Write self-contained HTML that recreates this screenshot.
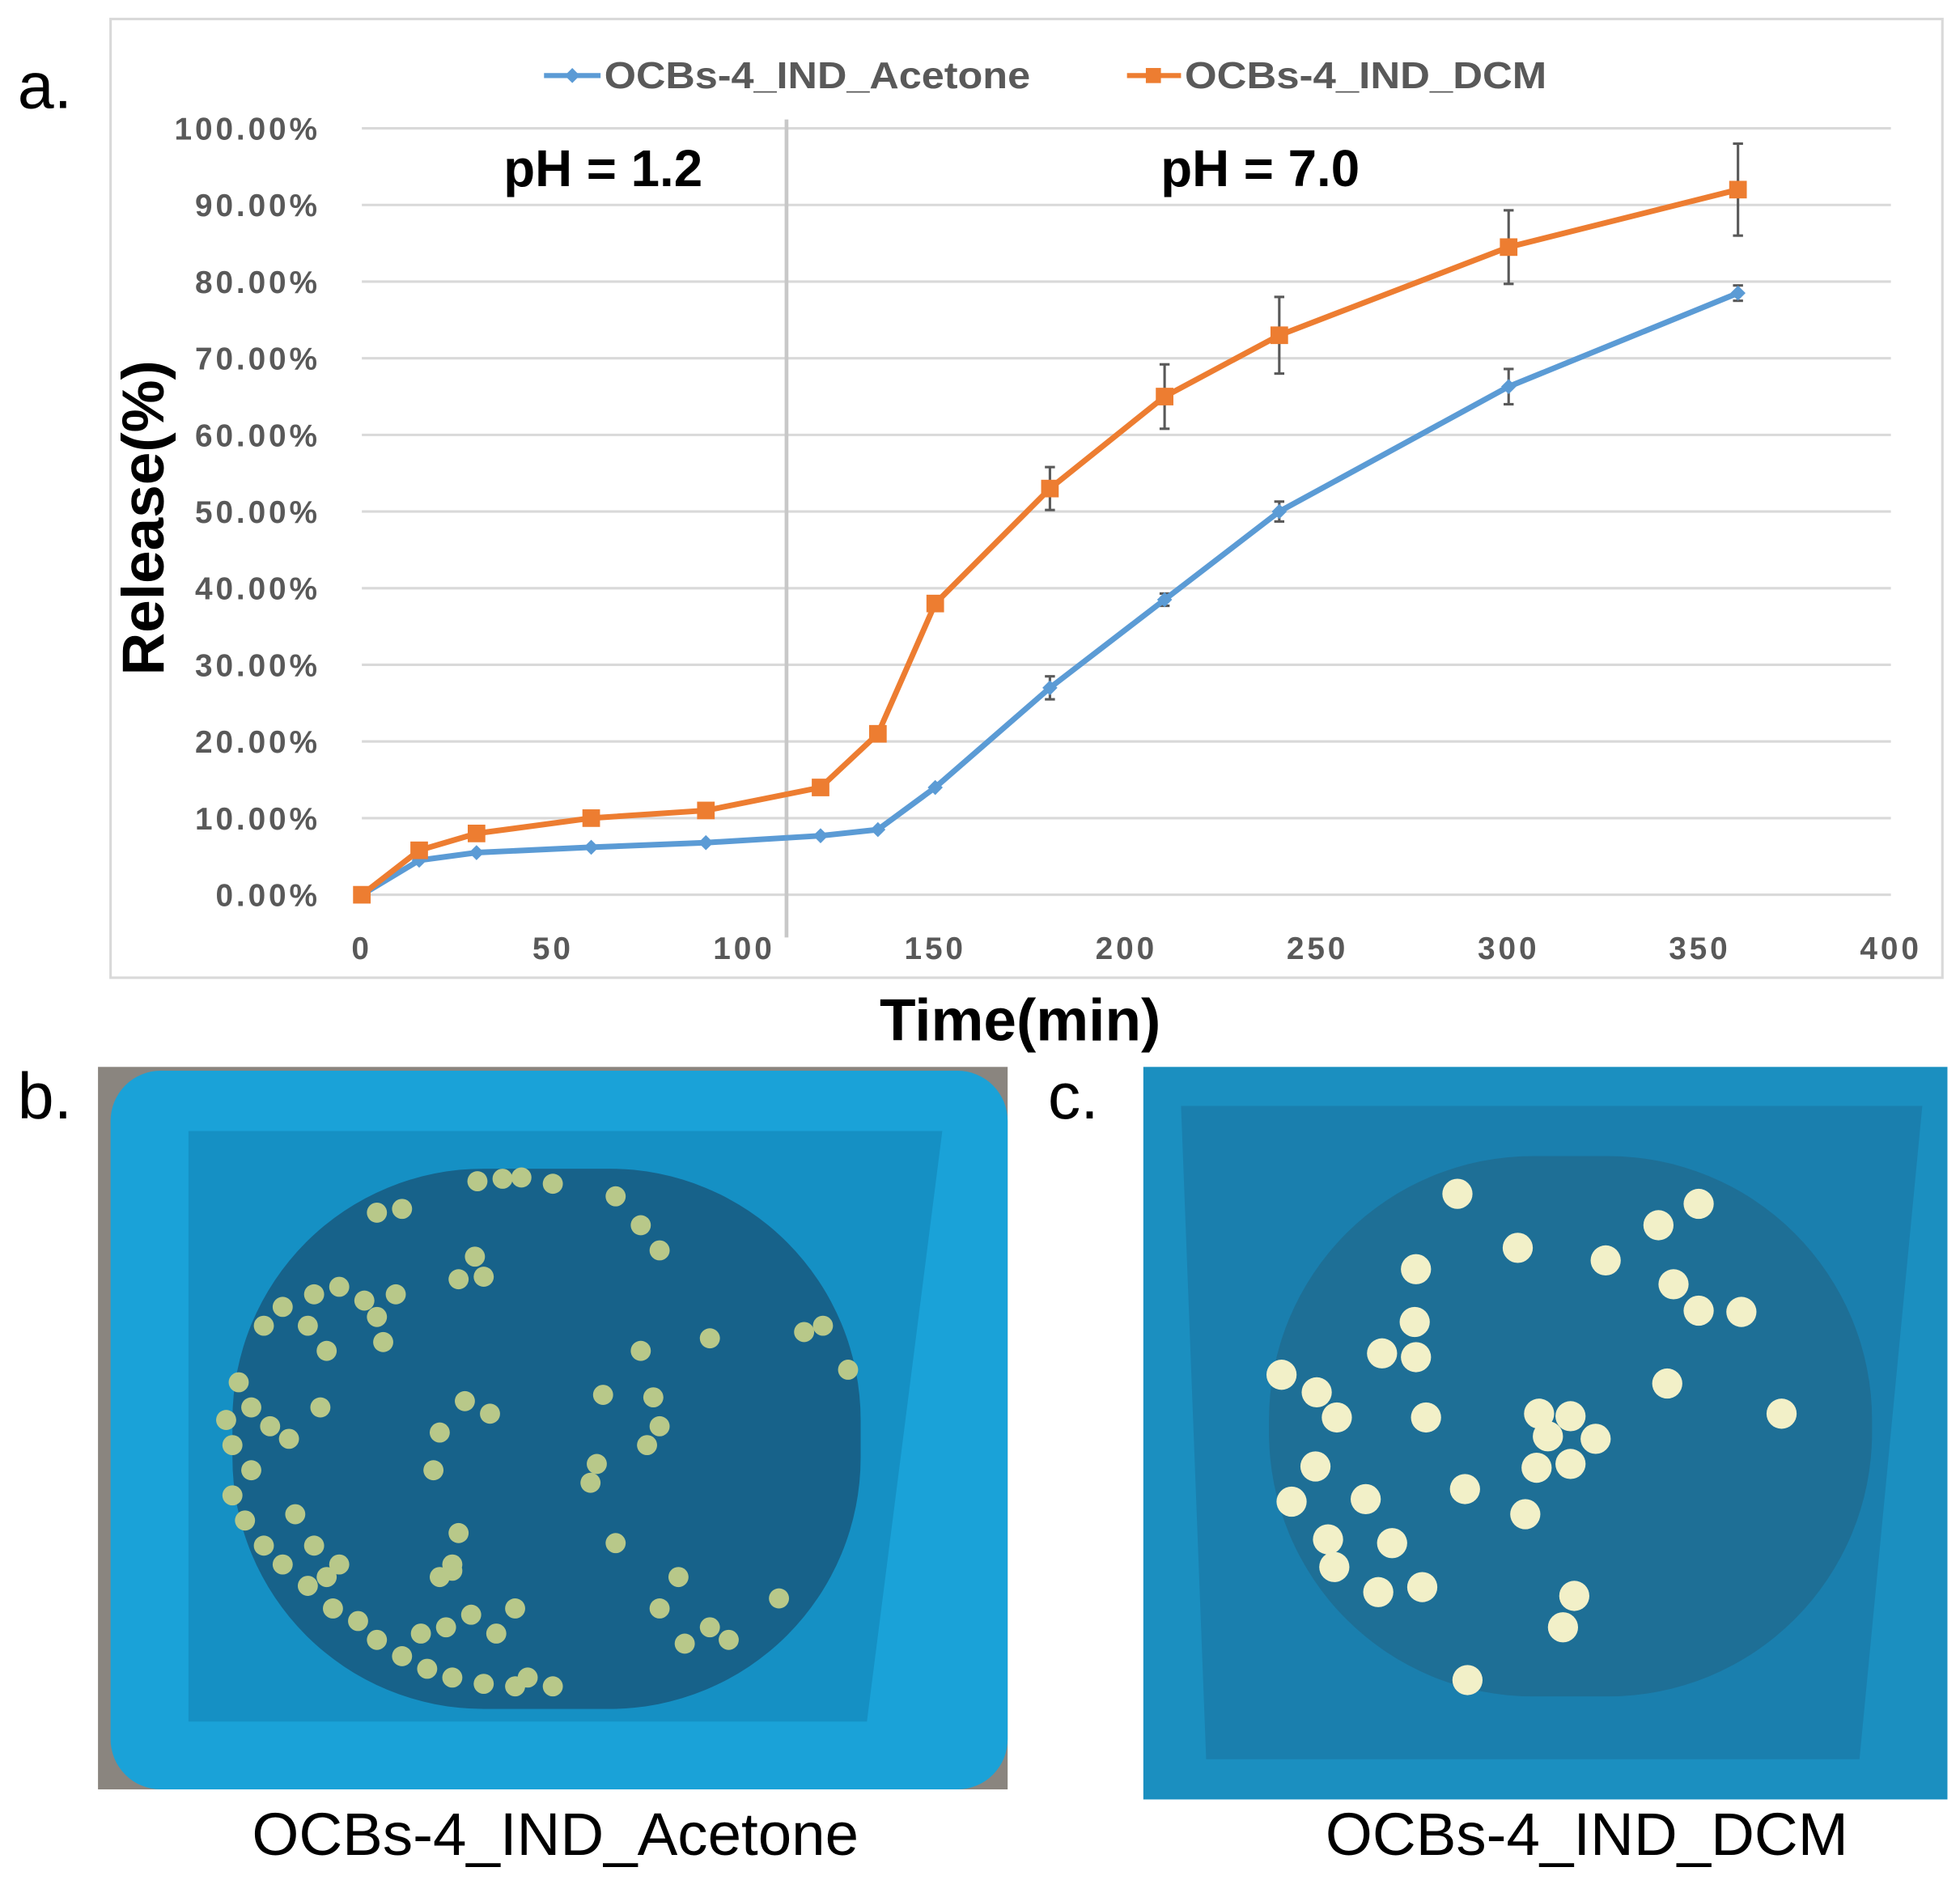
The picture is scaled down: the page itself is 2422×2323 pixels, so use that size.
<!DOCTYPE html>
<html><head><meta charset="utf-8"><style>
html,body{margin:0;padding:0;background:#fff;}
svg{display:block;}
</style></head><body>
<svg id="fig" width="2422" height="2323" viewBox="0 0 1560 1496" xmlns="http://www.w3.org/2000/svg" font-family="Liberation Sans, sans-serif">
<rect x="0" y="0" width="1560" height="1496" fill="#fff"/>
<text x="14" y="86" font-size="52">a.</text>
<rect x="88" y="15" width="1458" height="763" fill="#fff" stroke="#d9d9d9" stroke-width="2"/>
<g id="grid"></g>
<g id="yticks"></g>
<g id="xticks"></g>
<line x1="626" y1="95" x2="626" y2="746" stroke="#c8c8c8" stroke-width="3"/>
<text x="480" y="148" font-size="41" font-weight="bold" text-anchor="middle">pH = 1.2</text>
<text x="1003" y="148" font-size="41" font-weight="bold" text-anchor="middle">pH = 7.0</text>
<text transform="translate(130,412) rotate(-90)" font-size="47" font-weight="bold" text-anchor="middle">Release(%)</text>
<text x="812" y="828" font-size="47" font-weight="bold" text-anchor="middle">Time(min)</text>
<g>
<g>
<line x1="433" y1="60" x2="478" y2="60" stroke="#5b9bd5" stroke-width="4"/>
<path d="M455.5 54 L461.5 60 L455.5 66 L449.5 60Z" fill="#5b9bd5"/>
<text x="481" y="70" font-size="30" font-weight="bold" fill="#595959" textLength="339" lengthAdjust="spacingAndGlyphs">OCBs-4_IND_Acetone</text></g>
<g>
<line x1="897" y1="60" x2="940" y2="60" stroke="#ed7d31" stroke-width="4"/>
<rect x="912" y="54" width="12" height="12" fill="#ed7d31"/>
<text x="943" y="70" font-size="30" font-weight="bold" fill="#595959" textLength="288" lengthAdjust="spacingAndGlyphs">OCBs-4_IND_DCM</text></g>
</g>
<g id="series"></g>

<text x="14" y="890" font-size="52">b.</text>
<text x="834" y="890" font-size="52">c.</text>
<g>
<rect x="78" y="849" width="724" height="575" fill="#8a857f"/>
<rect x="88" y="852" width="714" height="572" rx="40" fill="#1aa2d8"/>
<polygon points="150,900 750,900 690,1370 150,1370" fill="#1590c4"/>
<rect x="185" y="930" width="500" height="430" rx="200" fill="#17628a"/>
<g id="beadsB"></g>
</g>
<g>
<rect x="910" y="849" width="640" height="583" fill="#1b8fc0"/>
<polygon points="940,880 1530,880 1480,1400 960,1400" fill="#1a7fae"/>
<rect x="1010" y="920" width="480" height="430" rx="210" fill="#1e6f96"/>
<g id="beadsC"></g>
</g>
<text x="442" y="1476" font-size="48" text-anchor="middle">OCBs-4_IND_Acetone</text>
<text x="1263" y="1476" font-size="48" text-anchor="middle">OCBs-4_IND_DCM</text>
</svg>
<script>
const times=[0,15,30,60,90,120,135,150,180,210,240,300,360];
const acetone=[0,4.5,5.5,6.2,6.8,7.7,8.5,14,27,38.5,50,66.3,78.5];
const dcm=[0,5.8,8,10,11,14,21,38,53,65,73,84.5,92];
const acetoneErr=[0,0,0,0,0,0,0,0,1.5,0.8,1.3,2.3,1];
const dcmErr=[0,0,0,0,0,0,0,0,2.8,4.2,5,4.8,6];
const yTicks=[0,10,20,30,40,50,60,70,80,90,100];
const xTicks=[0,50,100,150,200,250,300,350,400];
const NS="http://www.w3.org/2000/svg";
const X=t=>288+t*(1505-288)/400;
const Y=v=>712-v*6.1;
function mk(tag,attrs,parent){const e=document.createElementNS(NS,tag);for(const k in attrs)e.setAttribute(k,attrs[k]);parent.appendChild(e);return e;}
const grid=document.getElementById('grid'),yt=document.getElementById('yticks'),xt=document.getElementById('xticks'),ser=document.getElementById('series');
yTicks.forEach(v=>{
 const l=mk('line',{x1:288,x2:1505,y1:Y(v),y2:Y(v),stroke:'#d9d9d9','stroke-width':2},grid);
 
 
 const t=mk('text',{x:255,y:Y(v)+9,'font-size':25,'font-weight':'bold',fill:'#595959','text-anchor':'end','letter-spacing':2.5},yt);
 t.textContent=v.toFixed(2)+'%';
 
 
});
xTicks.forEach(v=>{
 const t=mk('text',{x:X(v),y:763,'font-size':25,'font-weight':'bold',fill:'#595959','text-anchor':'middle','letter-spacing':2.5},xt);
 t.textContent=v;
 
 
});
function drawSeries(vals,errs,color,marker,name){
 errs.forEach((e,i)=>{if(!e)return;const x=X(times[i]);
  const g=mk('g',{stroke:'#595959','stroke-width':2},ser);
  
  
  mk('line',{x1:x,x2:x,y1:Y(vals[i]+e),y2:Y(vals[i]-e)},g);
  mk('line',{x1:x-4,x2:x+4,y1:Y(vals[i]+e),y2:Y(vals[i]+e)},g);
  mk('line',{x1:x-4,x2:x+4,y1:Y(vals[i]-e),y2:Y(vals[i]-e)},g);
 });
 const p=mk('polyline',{points:vals.map((v,i)=>X(times[i])+','+Y(v)).join(' '),fill:'none',stroke:color,'stroke-width':4.5},ser);
 
 
 vals.forEach((v,i)=>{const x=X(times[i]),y=Y(v);let m;
  if(marker==='sq')m=mk('rect',{x:x-7,y:y-7,width:14,height:14,fill:color},ser);
  else m=mk('path',{d:`M${x} ${y-6}L${x+6} ${y}L${x} ${y+6}L${x-6} ${y}Z`,fill:color},ser);
  
  
 });
}
drawSeries(acetone,acetoneErr,'#5b9bd5','di','acetone');
drawSeries(dcm,dcmErr,'#ed7d31','sq','dcm');
const bB=document.getElementById('beadsB');
const bpts=[[380,940],[400,938],[415,937],[440,942],[300,965],[320,962],[490,952],[510,975],[525,995],[378,1000],[385,1016],[365,1018],[250,1030],[270,1024],[290,1035],[315,1030],[225,1040],[245,1055],[260,1075],[300,1048],[305,1068],[210,1055],[190,1100],[200,1120],[215,1135],[180,1130],[185,1150],[200,1170],[185,1190],[195,1210],[210,1230],[225,1245],[245,1262],[260,1255],[235,1205],[250,1230],[270,1245],[265,1280],[285,1290],[300,1305],[320,1318],[340,1328],[360,1335],[385,1340],[410,1342],[440,1342],[420,1335],[335,1300],[355,1295],[375,1285],[395,1300],[410,1280],[350,1255],[360,1245],[230,1145],[255,1120],[350,1140],[370,1115],[390,1125],[345,1170],[480,1110],[520,1112],[525,1135],[515,1150],[475,1165],[470,1180],[490,1228],[540,1255],[525,1280],[545,1308],[565,1295],[580,1305],[620,1272],[565,1065],[510,1075],[640,1060],[655,1055],[675,1090],[365,1220],[360,1250]];
bpts.forEach(([x,y])=>mk('circle',{cx:x,cy:y,r:8,fill:'#b8c889'},bB));
const bC=document.getElementById('beadsC');
const cpts=[[1160,950],[1352,958],[1320,975],[1208,993],[1278,1003],[1127,1010],[1332,1022],[1352,1043],[1386,1044],[1126,1052],[1100,1077],[1127,1080],[1020,1094],[1048,1108],[1064,1128],[1135,1128],[1327,1101],[1418,1125],[1225,1125],[1250,1127],[1232,1143],[1270,1145],[1047,1167],[1223,1168],[1250,1165],[1166,1185],[1087,1193],[1028,1195],[1214,1205],[1057,1225],[1108,1228],[1062,1247],[1097,1267],[1132,1263],[1253,1270],[1244,1295],[1168,1337]];
cpts.forEach(([x,y])=>mk('circle',{cx:x,cy:y,r:12,fill:'#f2f0c8'},bC));
</script>
</body></html>
